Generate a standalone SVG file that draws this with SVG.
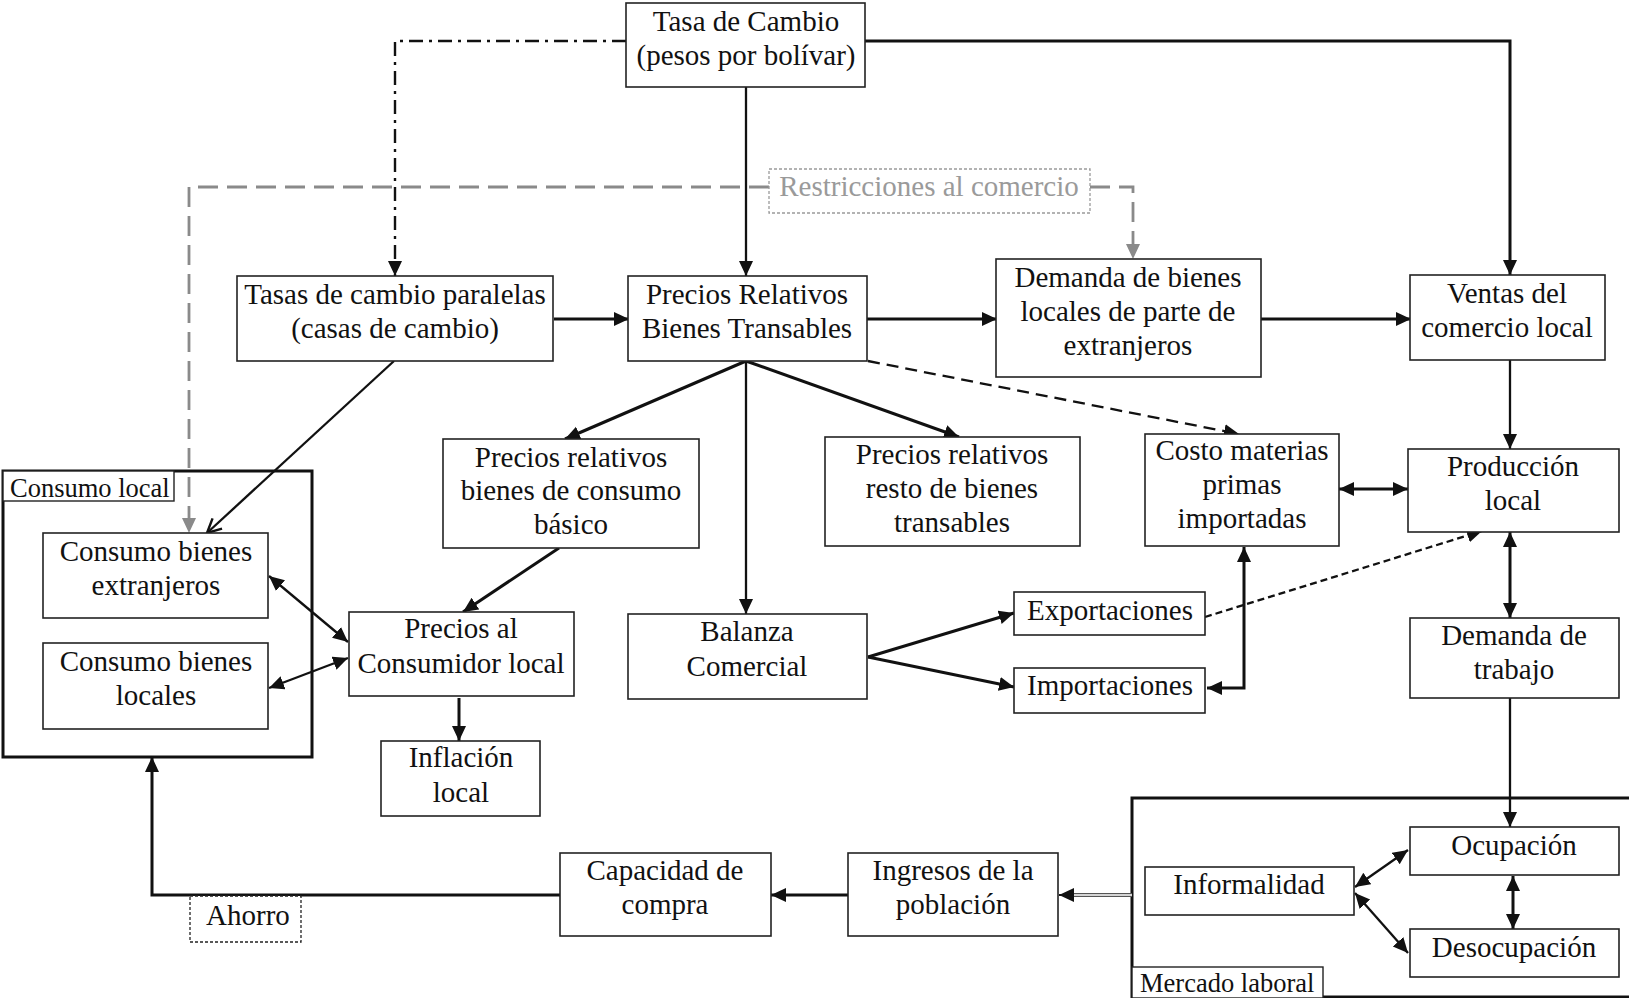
<svg xmlns="http://www.w3.org/2000/svg" width="1629" height="998" viewBox="0 0 1629 998">
  <style>
    .box { fill: #ffffff; stroke: #222; stroke-width: 1.6; }
    .frame { fill: none; stroke: #111; stroke-width: 3; }
    .tag { fill: #ffffff; stroke: #222; stroke-width: 1.4; }
    .t { font-family: "Liberation Serif", "Times New Roman", serif; font-size: 29px; fill: #111; text-anchor: middle; }
    .lbl { font-family: "Liberation Serif", "Times New Roman", serif; font-size: 26.5px; fill: #111; }
    .gt { fill: #9a9a9a; }
    .c { fill: none; stroke: #111; stroke-width: 3; }
    .thin { stroke-width: 2.3; }
    .dash { stroke-dasharray: 12 7; }
    .sdash { stroke-dasharray: 7 4; }
    .dashdot { stroke-dasharray: 14 6 3 6; stroke-width: 2.4; }
    .gdash { fill: none; stroke: #8a8a8a; stroke-width: 2.8; stroke-dasharray: 20 9; }
  </style>
  <defs>
    <marker id="a" markerUnits="userSpaceOnUse" markerWidth="16" markerHeight="15" refX="15" refY="7" orient="auto-start-reverse">
      <path d="M0,0 L15,7 L0,14 z" fill="#111"/>
    </marker>
    <marker id="ag" markerUnits="userSpaceOnUse" markerWidth="16" markerHeight="15" refX="15" refY="7" orient="auto-start-reverse">
      <path d="M0,0 L15,7 L0,14 z" fill="#8a8a8a"/>
    </marker>
    <marker id="ao" markerUnits="userSpaceOnUse" markerWidth="18" markerHeight="16" refX="15" refY="8" orient="auto">
      <path d="M1,1 L15,8 L1,15" fill="none" stroke="#111" stroke-width="2.4"/>
    </marker>
  </defs>

  <rect width="1629" height="998" fill="#ffffff"/>

  <!-- containers -->
  <g id="consumo-local">
    <rect class="frame" x="3" y="471" width="309" height="286"/>
    <rect class="tag" x="3" y="471" width="171" height="30"/>
    <text class="lbl" x="10" y="497">Consumo local</text>
  </g>
  <g id="mercado-laboral">
    <rect class="frame" x="1132" y="798" width="500" height="199"/>
    <rect class="tag" x="1132" y="967" width="191" height="31"/>
    <text class="lbl" x="1140" y="992">Mercado laboral</text>
  </g>

  <!-- connectors -->
  <g id="connectors">
    <path class="c thin" d="M746,87 V276" marker-end="url(#a)"/>
    <path class="c" d="M865,41 H1510 V275" marker-end="url(#a)"/>
    <path class="c dashdot" d="M626,41 H395 V276" marker-end="url(#a)"/>
    <path class="gdash" d="M769,187 H189 V533" marker-end="url(#ag)"/>
    <path class="gdash" d="M1090,187 H1133 V259" marker-end="url(#ag)"/>
    <path class="c" d="M554,319 H629" marker-end="url(#a)"/>
    <path class="c" d="M867,319 H997" marker-end="url(#a)"/>
    <path class="c" d="M1261,319 H1411" marker-end="url(#a)"/>
    <path class="c thin" d="M394,361 L207,533" marker-end="url(#ao)"/>
    <path class="c" d="M746,361 L565,439" marker-end="url(#a)"/>
    <path class="c thin" d="M746,361 V614" marker-end="url(#a)"/>
    <path class="c" d="M746,361 L959,437" marker-end="url(#a)"/>
    <path class="c thin dash" d="M868,361 L1239,434" marker-end="url(#a)"/>
    <path class="c thin" d="M1510,360 V449" marker-end="url(#a)"/>
    <path class="c" d="M1339,489 H1408" marker-start="url(#a)" marker-end="url(#a)"/>
    <path class="c" d="M1510,532 V618" marker-start="url(#a)" marker-end="url(#a)"/>
    <path class="c thin sdash" d="M1205,617 L1482,531" marker-end="url(#a)"/>
    <path class="c" d="M868,657 L1014,613" marker-end="url(#a)"/>
    <path class="c" d="M868,657 L1014,687" marker-end="url(#a)"/>
    <path class="c" d="M1207,688 H1244 V547" marker-start="url(#a)" marker-end="url(#a)"/>
    <path class="c" d="M559,548 L463,612" marker-end="url(#a)"/>
    <path class="c thin" d="M269,576 L348,642" marker-start="url(#a)" marker-end="url(#a)"/>
    <path class="c thin" d="M269,688 L348,658" marker-start="url(#a)" marker-end="url(#a)"/>
    <path class="c" d="M459,698 V741" marker-end="url(#a)"/>
    <path class="c thin" d="M1510,698 V827" marker-end="url(#a)"/>
    <path class="c" d="M1513,876 V929" marker-start="url(#a)" marker-end="url(#a)"/>
    <path class="c thin" d="M1355,887 L1408,850" marker-start="url(#a)" marker-end="url(#a)"/>
    <path class="c thin" d="M1355,893 L1408,953" marker-start="url(#a)" marker-end="url(#a)"/>
    <path d="M1132,895 H1070" fill="none" stroke="#555" stroke-width="4.2"/>
    <path d="M1132,895 H1068" fill="none" stroke="#fff" stroke-width="1.3"/>
    <path d="M1074,895 H1059" fill="none" stroke="#111" stroke-width="2" marker-end="url(#a)"/>
    <path class="c" d="M848,895 H771" marker-end="url(#a)"/>
    <path class="c" d="M560,895 H152 V757" marker-end="url(#a)"/>
  </g>

  <!-- nodes -->
  <g id="tasa-cambio">
    <rect class="box" x="626" y="3" width="239" height="84"/>
    <text class="t" x="746" y="31">Tasa de Cambio</text>
    <text class="t" x="746" y="65">(pesos por bolívar)</text>
  </g>
  <g id="restricciones">
    <rect x="769" y="169" width="321" height="44" fill="#fff" stroke="#9a9a9a" stroke-width="1.3" stroke-dasharray="3 2"/>
    <text class="t gt" x="929" y="196">Restricciones al comercio</text>
  </g>
  <g id="tasas-paralelas">
    <rect class="box" x="237" y="276" width="316" height="85"/>
    <text class="t" x="395" y="304">Tasas de cambio paralelas</text>
    <text class="t" x="395" y="338">(casas de cambio)</text>
  </g>
  <g id="precios-relativos">
    <rect class="box" x="628" y="276" width="239" height="85"/>
    <text class="t" x="747" y="304">Precios Relativos</text>
    <text class="t" x="747" y="338">Bienes Transables</text>
  </g>
  <g id="demanda-extranjeros">
    <rect class="box" x="996" y="259" width="265" height="118"/>
    <text class="t" x="1128" y="287">Demanda de bienes</text>
    <text class="t" x="1128" y="321">locales de parte de</text>
    <text class="t" x="1128" y="355">extranjeros</text>
  </g>
  <g id="ventas">
    <rect class="box" x="1410" y="275" width="195" height="85"/>
    <text class="t" x="1507" y="303">Ventas del</text>
    <text class="t" x="1507" y="337">comercio local</text>
  </g>
  <g id="consumo-extranjeros">
    <rect class="box" x="43" y="533" width="225" height="85"/>
    <text class="t" x="156" y="561">Consumo bienes</text>
    <text class="t" x="156" y="595">extranjeros</text>
  </g>
  <g id="consumo-locales">
    <rect class="box" x="43" y="643" width="225" height="86"/>
    <text class="t" x="156" y="671">Consumo bienes</text>
    <text class="t" x="156" y="705">locales</text>
  </g>
  <g id="precios-basicos">
    <rect class="box" x="443" y="439" width="256" height="109"/>
    <text class="t" x="571" y="467">Precios relativos</text>
    <text class="t" x="571" y="500">bienes de consumo</text>
    <text class="t" x="571" y="534">básico</text>
  </g>
  <g id="precios-resto">
    <rect class="box" x="825" y="437" width="255" height="109"/>
    <text class="t" x="952" y="464">Precios relativos</text>
    <text class="t" x="952" y="498">resto de bienes</text>
    <text class="t" x="952" y="532">transables</text>
  </g>
  <g id="costo-materias">
    <rect class="box" x="1145" y="434" width="194" height="112"/>
    <text class="t" x="1242" y="460">Costo materias</text>
    <text class="t" x="1242" y="494">primas</text>
    <text class="t" x="1242" y="528">importadas</text>
  </g>
  <g id="produccion">
    <rect class="box" x="1408" y="449" width="211" height="83"/>
    <text class="t" x="1513" y="476">Producción</text>
    <text class="t" x="1513" y="510">local</text>
  </g>
  <g id="precios-consumidor">
    <rect class="box" x="349" y="612" width="225" height="84"/>
    <text class="t" x="461" y="638">Precios al</text>
    <text class="t" x="461" y="673">Consumidor local</text>
  </g>
  <g id="balanza">
    <rect class="box" x="628" y="614" width="239" height="85"/>
    <text class="t" x="747" y="641">Balanza</text>
    <text class="t" x="747" y="676">Comercial</text>
  </g>
  <g id="exportaciones">
    <rect class="box" x="1014" y="592" width="191" height="43"/>
    <text class="t" x="1110" y="620">Exportaciones</text>
  </g>
  <g id="importaciones">
    <rect class="box" x="1014" y="668" width="191" height="45"/>
    <text class="t" x="1110" y="695">Importaciones</text>
  </g>
  <g id="demanda-trabajo">
    <rect class="box" x="1410" y="618" width="209" height="80"/>
    <text class="t" x="1514" y="645">Demanda de</text>
    <text class="t" x="1514" y="679">trabajo</text>
  </g>
  <g id="inflacion">
    <rect class="box" x="381" y="741" width="159" height="75"/>
    <text class="t" x="461" y="767">Inflación</text>
    <text class="t" x="461" y="802">local</text>
  </g>
  <g id="ocupacion">
    <rect class="box" x="1410" y="827" width="209" height="48"/>
    <text class="t" x="1514" y="855">Ocupación</text>
  </g>
  <g id="desocupacion">
    <rect class="box" x="1410" y="929" width="209" height="48"/>
    <text class="t" x="1514" y="957">Desocupación</text>
  </g>
  <g id="informalidad">
    <rect class="box" x="1145" y="867" width="209" height="48"/>
    <text class="t" x="1249" y="894">Informalidad</text>
  </g>
  <g id="ingresos">
    <rect class="box" x="848" y="853" width="210" height="83"/>
    <text class="t" x="953" y="880">Ingresos de la</text>
    <text class="t" x="953" y="914">población</text>
  </g>
  <g id="capacidad">
    <rect class="box" x="560" y="853" width="211" height="83"/>
    <text class="t" x="665" y="880">Capacidad de</text>
    <text class="t" x="665" y="914">compra</text>
  </g>
  <g id="ahorro">
    <rect x="190" y="896" width="111" height="46" fill="#fff" stroke="#222" stroke-width="1.3" stroke-dasharray="3 2"/>
    <text class="t" x="248" y="925">Ahorro</text>
  </g>
</svg>
